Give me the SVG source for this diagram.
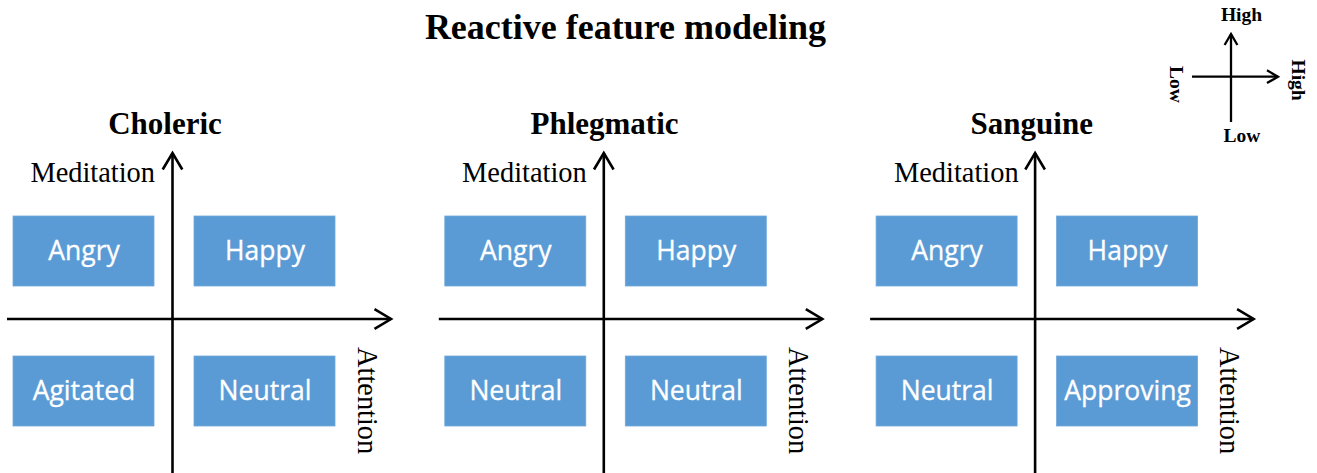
<svg xmlns="http://www.w3.org/2000/svg" width="1317" height="473" viewBox="0 0 1317 473">
  <style>
    .title { font-family: "Liberation Serif", "Times New Roman", serif; font-weight: bold; fill: #000; }
    .axis-label { font-family: "Liberation Serif", "Times New Roman", serif; font-size: 28.4px; fill: #000; }
    .legend-label { font-family: "Liberation Serif", "Times New Roman", serif; font-weight: bold; font-size: 19.5px; fill: #000; }
    .box rect { fill: #5B9BD5; stroke: #6FA8DC; stroke-width: 0.8; }
    .box text { font-family: "Open Sans", "Liberation Sans", sans-serif; font-size: 26.5px; fill: #fff; text-anchor: middle; stroke: #fff; stroke-width: 0.3; }
    .axis { stroke: #000; stroke-width: 2.6; fill: none; }
    .axis-big { marker-end: url(#chev); }
    .axis-small { stroke-width: 2.3; marker-end: url(#chev-small); }
  </style>
  <defs>
    <marker id="chev" markerUnits="userSpaceOnUse" markerWidth="24" markerHeight="26" refX="18" refY="13" orient="auto" style="overflow:visible">
      <path d="M1.5,3.2 L18,13 L1.5,22.8" fill="none" stroke="#000" stroke-width="2.6" stroke-linejoin="miter"/>
    </marker>
    <marker id="chev-small" markerUnits="userSpaceOnUse" markerWidth="16" markerHeight="16" refX="12" refY="8" orient="auto" style="overflow:visible">
      <path d="M1,1.6 L12,8 L1,14.4" fill="none" stroke="#000" stroke-width="2.3" stroke-linejoin="miter"/>
    </marker>
  </defs>

  <rect width="1317" height="473" fill="#fff"/>

  <text class="title" x="625.5" y="39" font-size="36" text-anchor="middle">Reactive feature modeling</text>

  <!-- legend: axis directions -->
  <g id="legend">
    <g class="connectors">
      <line class="axis axis-small" x1="1231" y1="122" x2="1231" y2="34"/>
      <line class="axis axis-small" x1="1192" y1="76.7" x2="1278" y2="76.7"/>
    </g>
    <text class="legend-label" x="1241.5" y="20.7" text-anchor="middle">High</text>
    <text class="legend-label" x="1242" y="141.7" text-anchor="middle">Low</text>
    <text class="legend-label" transform="translate(1169.5,66) rotate(90)">Low</text>
    <text class="legend-label" transform="translate(1291.8,59.5) rotate(90)">High</text>
  </g>

  <!-- Choleric -->
  <g id="panel-choleric">
    <text class="title" x="165" y="134" font-size="31" text-anchor="middle">Choleric</text>
    <g class="connectors">
      <line class="axis axis-big" x1="172.5" y1="473" x2="172.5" y2="153"/>
      <line class="axis axis-big" x1="7" y1="319" x2="391" y2="319"/>
    </g>
    <text class="axis-label" x="155" y="182.3" text-anchor="end">Meditation</text>
    <text class="axis-label" transform="translate(358,347) rotate(90)">Attention</text>
    <g id="choleric-angry" class="box"><rect x="13" y="216" width="141" height="70"/><text x="84" y="260">Angry</text></g>
    <g id="choleric-happy" class="box"><rect x="194" y="216" width="141" height="70"/><text x="265" y="260">Happy</text></g>
    <g id="choleric-agitated" class="box"><rect x="13" y="356" width="141" height="70"/><text x="84" y="400">Agitated</text></g>
    <g id="choleric-neutral" class="box"><rect x="194" y="356" width="141" height="70"/><text x="265" y="400">Neutral</text></g>
  </g>

  <!-- Phlegmatic -->
  <g id="panel-phlegmatic" transform="translate(431.3,0)">
    <text class="title" x="173.2" y="134" font-size="31" text-anchor="middle">Phlegmatic</text>
    <g class="connectors">
      <line class="axis axis-big" x1="172.5" y1="473" x2="172.5" y2="153"/>
      <line class="axis axis-big" x1="7.5" y1="319" x2="391" y2="319"/>
    </g>
    <text class="axis-label" x="155.4" y="182.3" text-anchor="end">Meditation</text>
    <text class="axis-label" transform="translate(357.5,347) rotate(90)">Attention</text>
    <g id="phlegmatic-angry" class="box"><rect x="13.5" y="216" width="141" height="70"/><text x="84.5" y="260">Angry</text></g>
    <g id="phlegmatic-happy" class="box"><rect x="194" y="216" width="141" height="70"/><text x="265" y="260">Happy</text></g>
    <g id="phlegmatic-neutral-low" class="box"><rect x="13.5" y="356" width="141" height="70"/><text x="84.5" y="400">Neutral</text></g>
    <g id="phlegmatic-neutral-high" class="box"><rect x="194" y="356" width="141" height="70"/><text x="265" y="400">Neutral</text></g>
  </g>

  <!-- Sanguine -->
  <g id="panel-sanguine" transform="translate(862.6,0)">
    <text class="title" x="169.2" y="134" font-size="31" text-anchor="middle">Sanguine</text>
    <g class="connectors">
      <line class="axis axis-big" x1="172.5" y1="473" x2="172.5" y2="153"/>
      <line class="axis axis-big" x1="7.5" y1="319" x2="391" y2="319"/>
    </g>
    <text class="axis-label" x="156" y="182.3" text-anchor="end">Meditation</text>
    <text class="axis-label" transform="translate(357.5,347) rotate(90)">Attention</text>
    <g id="sanguine-angry" class="box"><rect x="13.5" y="216" width="141" height="70"/><text x="84.5" y="260">Angry</text></g>
    <g id="sanguine-happy" class="box"><rect x="194" y="216" width="141" height="70"/><text x="265" y="260">Happy</text></g>
    <g id="sanguine-neutral" class="box"><rect x="13.5" y="356" width="141" height="70"/><text x="84.5" y="400">Neutral</text></g>
    <g id="sanguine-approving" class="box"><rect x="194" y="356" width="141" height="70"/><text x="265" y="400">Approving</text></g>
  </g>
</svg>
